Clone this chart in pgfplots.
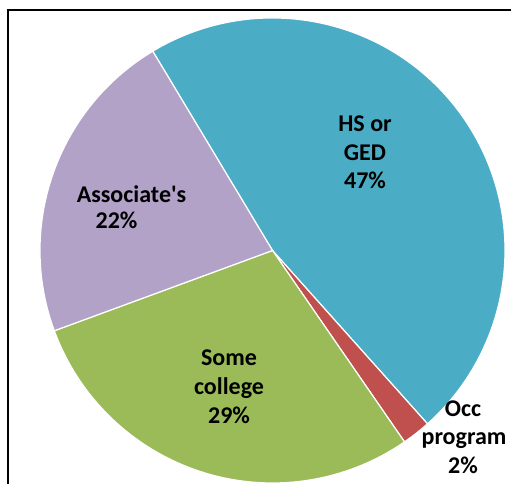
\documentclass[border=0pt]{standalone}
\usepackage{pgfplots}
\usepackage{pgfplotstable}
\pgfplotsset{compat=1.18}
\usepackage{fontspec}
\setmainfont{Carlito}

\definecolor{hsc}{HTML}{4BACC6}
\definecolor{occc}{HTML}{C0504D}
\definecolor{somec}{HTML}{9BBB59}
\definecolor{assocc}{HTML}{B2A2C7}

% share of each education level, in percent (clockwise from the top left)
\pgfplotstableread{
name    value color
HS      47    hsc
Occ     2     occc
Some    29    somec
Assoc   22    assocc
}\piedata

\begin{document}
\begin{tikzpicture}
\path[use as bounding box] (0,0) rectangle (511pt,484pt);
\begin{axis}[
    at={(0,0)}, anchor=south west,
    scale only axis,
    width=511pt, height=484pt,
    xmin=0, xmax=511, ymin=0, ymax=484,
    hide axis, clip=false,
    nodes={font=\fontsize{24}{28}\selectfont\bfseries, inner sep=0pt, anchor=base},
]
\pgfplotstablegetrowsof{\piedata}
\pgfmathtruncatemacro{\lastrow}{\pgfplotsretval-1}
\def\startang{121}
\pgfplotsforeachungrouped \i in {0,...,\lastrow}{
    \pgfplotstablegetelem{\i}{value}\of\piedata \let\val\pgfplotsretval
    \pgfplotstablegetelem{\i}{color}\of\piedata \let\col\pgfplotsretval
    \pgfmathsetmacro{\endang}{\startang-3.6*\val}
    \edef\temp{\noexpand\fill[\col, draw=white, line width=1.2pt]
        (axis cs:272.5,233.5) -- ++(\startang:232.5pt)
        arc[start angle=\startang, end angle=\endang, radius=232.5pt] -- cycle;}
    \temp
    \global\let\startang\endang
}

% frame
\draw[black, line width=2.5pt] (axis cs:8,-5) -- (axis cs:8,474) -- (axis cs:520,474);

% labels
\node at (axis cs:365,352) {HS or};
\node at (axis cs:365,323) {GED};
\node at (axis cs:365,295) {47\%};
\node at (axis cs:131.5,281) {Associate\textquotesingle s};
\node at (axis cs:116.5,255) {22\%};
\node at (axis cs:229,118) {Some};
\node at (axis cs:229,89) {college};
\node at (axis cs:229,60) {29\%};
\node at (axis cs:463,67) {Occ};
\node at (axis cs:464,39) {program};
\node at (axis cs:463,10) {2\%};
\end{axis}
\end{tikzpicture}
\end{document}
